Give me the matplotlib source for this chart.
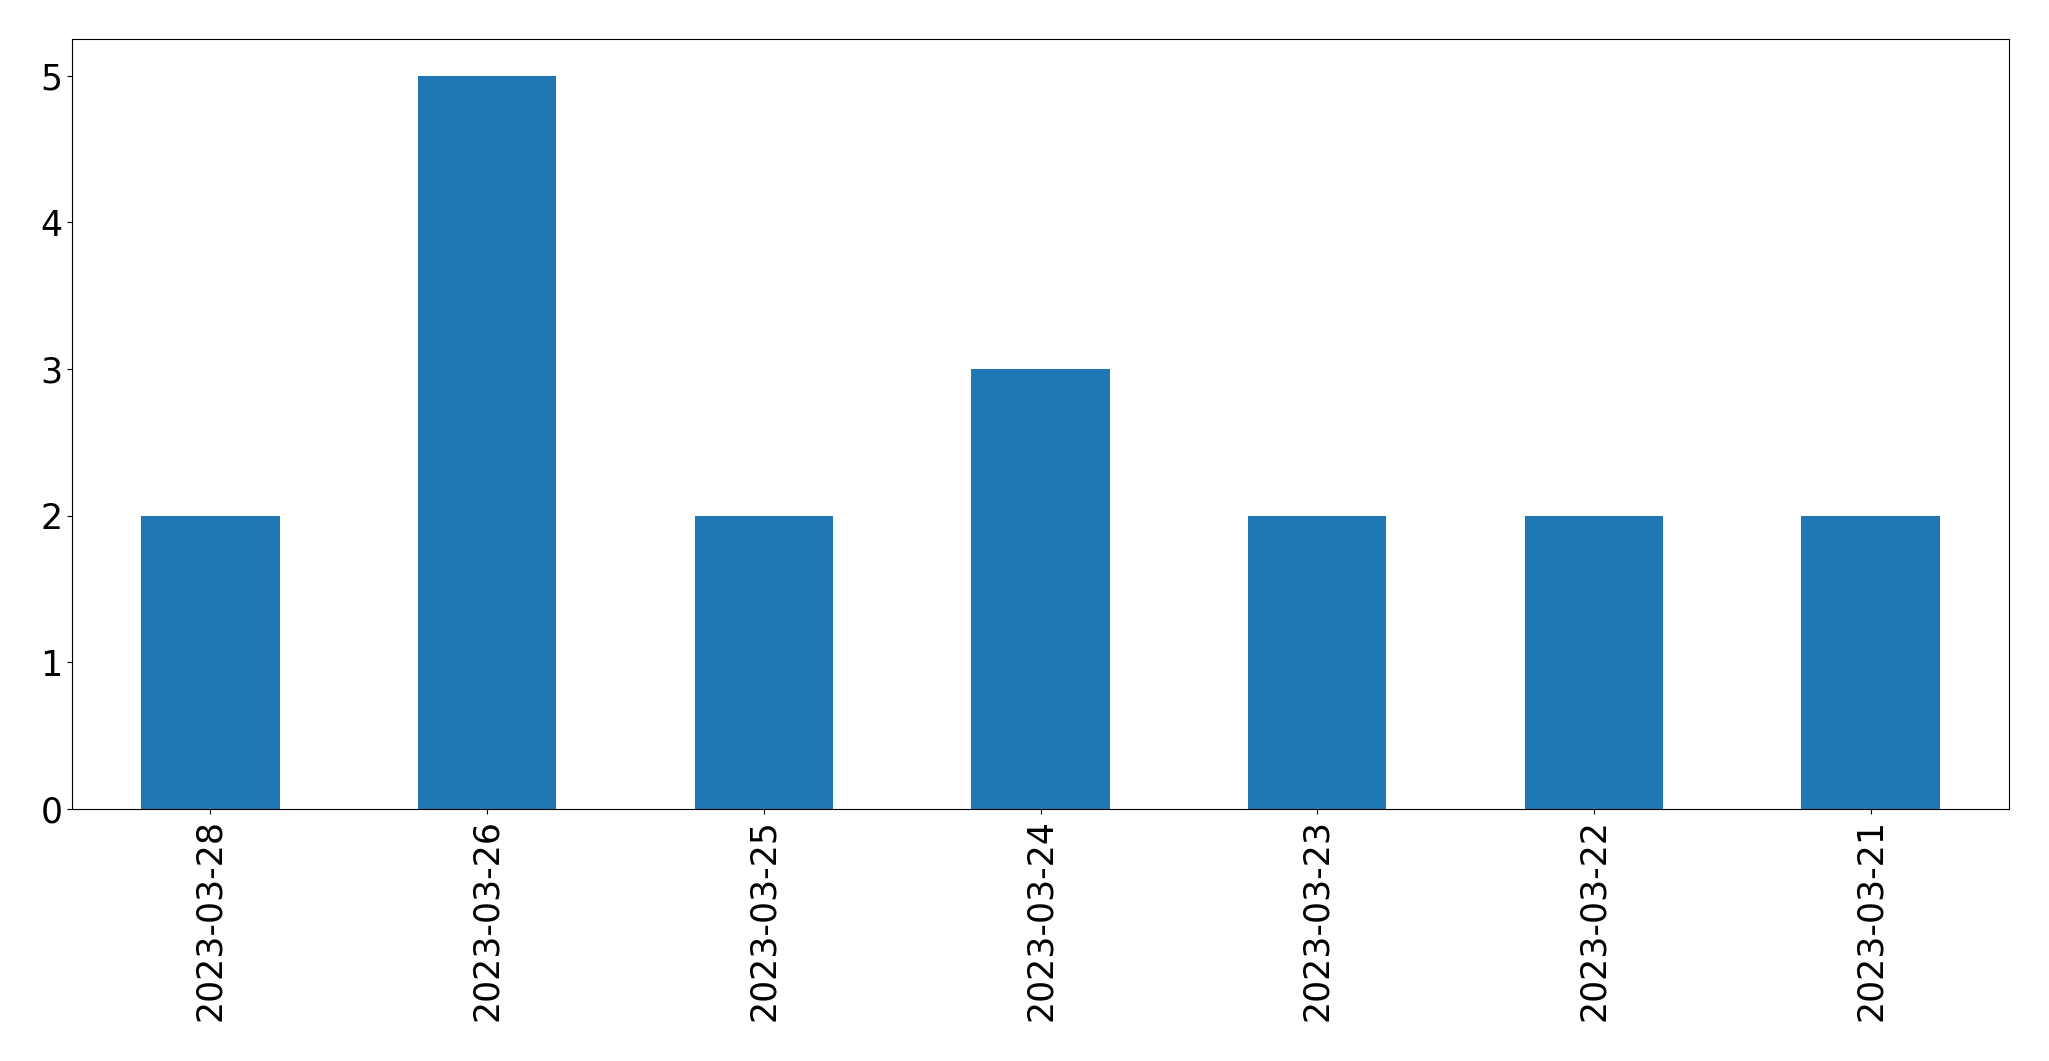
import matplotlib
matplotlib.use("Agg")
import matplotlib.pyplot as plt
import pandas as pd

dates = ["2023-03-28", "2023-03-26", "2023-03-25", "2023-03-24",
         "2023-03-23", "2023-03-22", "2023-03-21"]
counts = [2, 5, 2, 3, 2, 2, 2]

series = pd.Series(counts, index=dates)

fig, ax = plt.subplots(figsize=(20.49, 10.61), dpi=100)
fig.subplots_adjust(left=72 / 2049, right=2009 / 2049,
                    top=1 - 39 / 1061, bottom=1 - 809 / 1061)
series.plot(kind="bar", ax=ax, color="#1f77b4")
ax.tick_params(axis="both", labelsize=25)
ax.set_xlabel("")

fig.savefig("out.png", dpi=100)
